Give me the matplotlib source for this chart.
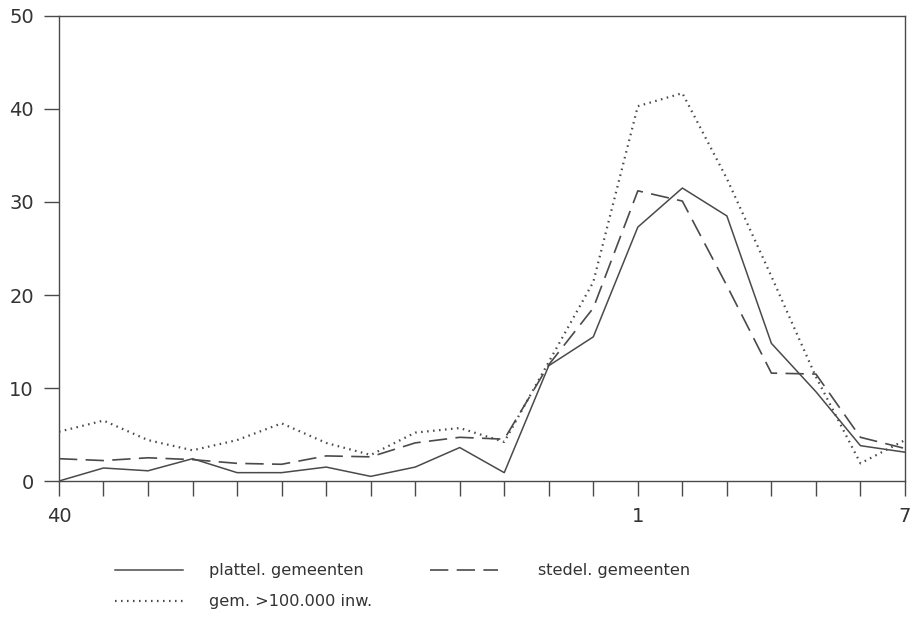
import matplotlib.pyplot as plt

# weeknummers: week 40 t/m 52, daarna week 1 t/m 7
weken = list(range(40, 53)) + list(range(1, 8))
gelabeld = [40, 1, 7]

plattel = [0.0, 1.4, 1.1, 2.4, 0.9, 0.9, 1.5, 0.5, 1.5, 3.6,
           0.9, 12.4, 15.5, 27.3, 31.5, 28.5, 14.8, 9.6, 3.8, 3.1]
stedel = [2.4, 2.2, 2.5, 2.3, 1.9, 1.8, 2.7, 2.6, 4.1, 4.7,
          4.5, 12.5, 18.6, 31.2, 30.1, 21.0, 11.6, 11.5, 4.7, 3.5]
grote_gem = [5.3, 6.5, 4.4, 3.3, 4.4, 6.2, 4.1, 2.8, 5.2, 5.7,
             4.2, 12.8, 21.4, 40.3, 41.7, 32.5, 22.0, 11.2, 1.9, 4.4]

kleur = '#4a4a4a'
tekst = '#333333'

fig = plt.figure(figsize=(9.1, 6.19), dpi=100)
ax = fig.add_axes([0.0648, 0.2229, 0.9297, 0.7513])

x = list(range(len(weken)))
l1, = ax.plot(x, plattel, color=kleur, lw=1.1, linestyle='-')
l2, = ax.plot(x, stedel, color=kleur, lw=1.2, dashes=(11, 5))
l3, = ax.plot(x, grote_gem, color=kleur, lw=1.6, linestyle=(0, (0.7, 2.0)))

ax.set_xlim(0, len(weken) - 1)
ax.set_ylim(0, 50)
ax.set_xticks(x)
ax.set_xticklabels([str(w) if w in gelabeld else '' for w in weken])
ax.set_yticks(range(0, 51, 10))

for s in ax.spines.values():
    s.set_color(kleur)
    s.set_linewidth(1.0)
ax.tick_params(axis='both', direction='out', length=11, width=1.0,
               color=kleur, labelcolor=tekst, labelsize=14)
ax.tick_params(axis='x', pad=8)
ax.tick_params(axis='y', pad=7)

# legenda in twee losse kolommen (fig.legend voegt elke legenda zelf toe)
opties = dict(loc='upper left', frameon=False, fontsize=11.6, labelcolor=tekst,
              handlelength=4.2, labelspacing=1.0, borderpad=0)
fig.legend([l1, l3], ['plattel. gemeenten', 'gem. >100.000 inw.'],
           bbox_to_anchor=(0.118, 0.103), handletextpad=1.6, **opties)
fig.legend([l2], ['stedel. gemeenten'],
           bbox_to_anchor=(0.4637, 0.103), handletextpad=2.5, **opties)

fig.savefig('out.png', dpi=100)
